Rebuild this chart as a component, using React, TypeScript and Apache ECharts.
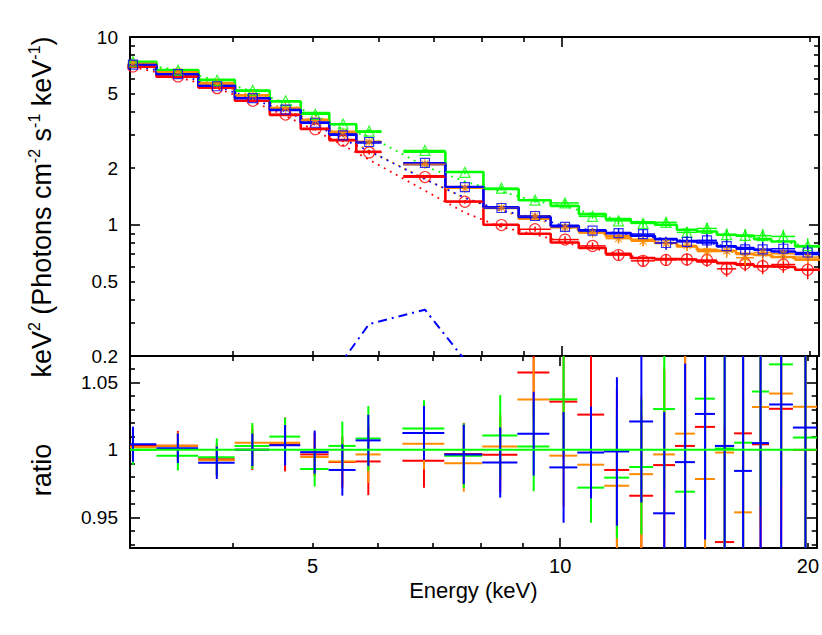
import React, { useEffect, useRef } from 'react';
import * as echarts from 'echarts';

// ---------- data ----------
const binLo = [2.82, 3.23, 3.63, 4.02, 4.43, 4.83, 5.23, 5.64, 6.43, 7.23, 8.04, 8.87, 9.70, 10.49, 11.31, 12.13, 12.97, 13.79, 14.58, 15.42, 16.27, 17.10, 17.94, 19.18];
const binHi = [3.23, 3.63, 4.02, 4.43, 4.83, 5.23, 5.64, 6.05, 7.23, 8.04, 8.87, 9.70, 10.49, 11.31, 12.13, 12.97, 13.79, 14.58, 15.42, 16.27, 17.10, 17.94, 19.18, 20.55];

const modelRed = [6.95, 6.15, 5.38, 4.58, 3.85, 3.24, 2.83, 2.45, 1.81, 1.33, 1.00, 0.896, 0.805, 0.752, 0.700, 0.665, 0.657, 0.652, 0.638, 0.625, 0.613, 0.600, 0.596, 0.576];
const modelOrange = [7.25, 6.51, 5.68, 4.88, 4.18, 3.62, 3.13, 2.77, 2.10, 1.58, 1.23, 1.076, 0.972, 0.914, 0.867, 0.832, 0.800, 0.767, 0.736, 0.726, 0.700, 0.690, 0.673, 0.652];
const modelGreen = [7.38, 6.67, 5.91, 5.18, 4.53, 3.93, 3.43, 3.13, 2.45, 1.91, 1.55, 1.35, 1.26, 1.14, 1.072, 1.03, 1.00, 0.94, 0.921, 0.885, 0.874, 0.839, 0.815, 0.767];
const modelBlue = [7.10, 6.33, 5.52, 4.72, 4.09, 3.50, 3.04, 2.74, 2.11, 1.59, 1.24, 1.10, 0.988, 0.933, 0.903, 0.874, 0.839, 0.819, 0.805, 0.767, 0.752, 0.736, 0.721, 0.700];

const contRed = [6.92, 6.12, 5.33, 4.53, 3.80, 3.17, 2.65, 2.22, 1.52, 1.16, 0.97, 0.89, 0.80, 0.75, 0.70, 0.665, 0.656, 0.651, 0.637, 0.624, 0.612, 0.599, 0.595, 0.575];
const contOrange = [7.22, 6.48, 5.63, 4.83, 4.11, 3.52, 2.93, 2.48, 1.75, 1.39, 1.18, 1.07, 0.97, 0.913, 0.866, 0.831, 0.799, 0.766, 0.735, 0.725, 0.699, 0.689, 0.672, 0.651];
const contGreen = [7.35, 6.64, 5.86, 5.13, 4.46, 3.84, 3.22, 2.96, 2.05, 1.70, 1.50, 1.34, 1.255, 1.138, 1.07, 1.029, 0.999, 0.939, 0.92, 0.884, 0.873, 0.838, 0.814, 0.766];
const contBlue = [7.07, 6.30, 5.47, 4.67, 4.02, 3.41, 2.85, 2.47, 1.75, 1.39, 1.19, 1.09, 0.985, 0.932, 0.902, 0.873, 0.838, 0.818, 0.804, 0.766, 0.751, 0.735, 0.720, 0.699];

const gaussBlue = [0.0005, 0.001, 0.002, 0.005, 0.015, 0.06, 0.19, 0.296, 0.353, 0.19, 0.06, 0.015, 0.004, 0.001, 0.0005, 0.0003, 0.0002, 0.0002, 0.0002, 0.0002, 0.0002, 0.0002, 0.0002, 0.0002];

const ratioRed = [1.003, 1.003, 0.993, 1.000, 1.004, 0.9966, 0.991, 0.9914, 0.9919, 0.997, 0.9964, 1.0573, 1.0357, 1.0261, 0.9851, 0.966, 0.9887, 1.0029, 1.017, 0.9317, 1.0122, 1.0041, 1.0304, 1.000];
const ratioOrange = [1.002, 1.003, 0.9923, 1.0053, 1.0053, 0.9947, 0.9914, 0.9966, 1.0045, 0.990, 1.0024, 1.0372, 0.9957, 0.989, 0.9734, 0.982, 0.9966, 1.012, 0.9784, 0.998, 0.9537, 1.0317, 1.0417, 1.0319];
const ratioGreen = [1.000, 0.9957, 0.9945, 1.0029, 1.0098, 0.9858, 1.0029, 1.0084, 1.0158, 0.9957, 1.0106, 1.0024, 1.0374, 0.972, 0.9794, 0.9873, 1.0302, 0.969, 1.0379, 1.001, 1.0053, 1.0432, 1.0633, 1.0091];
const ratioBlue = [1.0041, 1.0012, 0.9904, 1.000, 1.0034, 0.9983, 0.9851, 1.007, 1.0125, 0.9966, 0.9906, 1.012, 0.987, 0.998, 0.9988, 1.021, 0.953, 0.9909, 1.0266, 1.0029, 0.9844, 1.005, 1.0336, 1.0165];

const errRed = [0.012, 0.011, 0.012, 0.015, 0.020, 0.016, 0.019, 0.025, 0.020, 0.023, 0.028, 0.034, 0.042, 0.045, 0.060, 0.060, 0.070, 0.075, 0.080, 0.085, 0.090, 0.095, 0.100, 0.110];
const errOrange = [0.012, 0.010, 0.011, 0.013, 0.014, 0.015, 0.017, 0.021, 0.019, 0.021, 0.025, 0.031, 0.038, 0.040, 0.055, 0.058, 0.065, 0.070, 0.075, 0.080, 0.085, 0.090, 0.095, 0.100];
const errGreen = [0.011, 0.011, 0.014, 0.017, 0.014, 0.013, 0.018, 0.024, 0.021, 0.024, 0.030, 0.033, 0.040, 0.026, 0.045, 0.050, 0.060, 0.065, 0.070, 0.075, 0.080, 0.085, 0.090, 0.095];
const errBlue = [0.013, 0.011, 0.012, 0.012, 0.015, 0.016, 0.019, 0.019, 0.020, 0.022, 0.026, 0.031, 0.041, 0.034, 0.055, 0.060, 0.075, 0.073, 0.093, 0.090, 0.090, 0.095, 0.110, 0.095];

const xLabelValues = [5, 10, 20];
const xMinorTicks = [3, 4, 5, 6, 7, 8, 9, 20];
const xMajorTicks = [10];
const yTopLabelValues = [0.2, 0.5, 1, 2, 5, 10];
const yTopMinorTicks = [0.2, 0.3, 0.4, 0.5, 0.6, 0.7, 0.8, 0.9, 2, 3, 4, 5, 6, 7, 8, 9];
const yTopMajorTicks = [1, 10];
const rLabelValues = [0.95, 1, 1.05];
const rMinorTicks = [0.93, 0.94, 0.96, 0.97, 0.98, 0.99, 1.01, 1.02, 1.03, 1.04, 1.06];
const rMajorTicks = [0.95, 1, 1.05];

const X_MIN = 3.0;
const X_MAX = 20.5;
const Y_MIN = 0.2;
const Y_MAX = 10;
const R_MIN = 0.9273;
const R_MAX = 1.0695;

// ---------- style ----------
const FONT = '"Liberation Sans", Arial, Helvetica, sans-serif';
const RED = '#ff0000';
const ORANGE = '#ff8c00';
const GREEN = '#00ff00';
const BLUE = '#0000ff';
const ASTERISK = 'path://M5 0L5 10M0 5L10 5M1.5 1.5L8.5 8.5M1.5 8.5L8.5 1.5';

const sets = [
  { color: RED, model: modelRed, cont: contRed, ratio: ratioRed, err: errRed, symbol: 'circle', size: 11 },
  { color: ORANGE, model: modelOrange, cont: contOrange, ratio: ratioOrange, err: errOrange, symbol: ASTERISK, size: 10 },
  { color: GREEN, model: modelGreen, cont: contGreen, ratio: ratioGreen, err: errGreen, symbol: 'triangle', size: 10 },
  { color: BLUE, model: modelBlue, cont: contBlue, ratio: ratioBlue, err: errBlue, symbol: 'rect', size: 9 },
];

const centers = binLo.map((lo, i) => (lo + binHi[i]) / 2);

const fmt = (v: number) => String(parseFloat(Number(v).toPrecision(4)));

function stepData(model: number[]) {
  const pts: any[] = [];
  model.forEach((v, i) => {
    if (i > 0 && Math.abs(binLo[i] - binHi[i - 1]) > 1e-6) {
      pts.push([(binHi[i - 1] + binLo[i]) / 2, '-']);
    }
    pts.push([binLo[i], v]);
    pts.push([binHi[i], v]);
  });
  return pts;
}

function errSeries(xi: number, yi: number, color: string, data: number[][], width: number) {
  return {
    type: 'custom',
    xAxisIndex: xi,
    yAxisIndex: yi,
    clip: true,
    silent: true,
    encode: { x: [0, 1], y: 3 },
    data,
    renderItem: (_p: any, api: any) => {
      const lo = api.value(0), hi = api.value(1), c = api.value(2), y = api.value(3), e = api.value(4);
      const pL = api.coord([lo, y]);
      const pR = api.coord([hi, y]);
      const pT = api.coord([c, y + e]);
      const pB = api.coord([c, y - e]);
      const st = { stroke: color, lineWidth: width };
      return {
        type: 'group',
        children: [
          { type: 'line', shape: { x1: pL[0], y1: pL[1], x2: pR[0], y2: pR[1] }, style: st },
          { type: 'line', shape: { x1: pT[0], y1: pT[1], x2: pB[0], y2: pB[1] }, style: st },
        ],
      };
    },
  };
}

function mkX(grid: number, position: string, ticks: number[], len: number, line: boolean, labels?: number[], name?: string) {
  return {
    type: 'log', logBase: 10, gridIndex: grid, position, min: X_MIN, max: X_MAX,
    name: name || '', nameLocation: 'middle', nameGap: 31,
    nameTextStyle: { fontSize: 22, fontFamily: FONT, color: '#000' },
    axisLine: { show: line, onZero: false, lineStyle: { color: '#000', width: 2 } },
    axisTick: { show: true, inside: true, length: len, customValues: ticks, lineStyle: { color: '#000', width: 1.6 } },
    axisLabel: labels
      ? { show: true, customValues: labels, margin: 8, fontSize: 20, fontFamily: FONT, color: '#000', formatter: fmt }
      : { show: false },
    splitLine: { show: false },
    minorTick: { show: false },
  };
}

function mkY(grid: number, position: string, type: string, min: number, max: number, ticks: number[], len: number, line: boolean, labels?: number[]) {
  const ax: any = {
    type, gridIndex: grid, position, min, max,
    axisLine: { show: line, onZero: false, lineStyle: { color: '#000', width: 2 } },
    axisTick: { show: true, inside: true, length: len, customValues: ticks, lineStyle: { color: '#000', width: 1.6 } },
    axisLabel: labels
      ? { show: true, customValues: labels, margin: 12, fontSize: 19, fontFamily: FONT, color: '#000', formatter: fmt }
      : { show: false },
    splitLine: { show: false },
    minorTick: { show: false },
  };
  if (type === 'log') ax.logBase = 10;
  return ax;
}

function buildOption() {
  const series: any[] = [];
  // dotted continuum lines
  sets.forEach((s) => {
    series.push({
      type: 'line', xAxisIndex: 0, yAxisIndex: 0, silent: true, showSymbol: false, symbol: 'none',
      data: centers.map((c, i) => [c, s.cont[i]]),
      lineStyle: { color: s.color, width: 1.8, type: [1.8, 5] },
      z: 2,
    });
  });
  // gaussian line component
  series.push({
    type: 'line', xAxisIndex: 0, yAxisIndex: 0, silent: true, showSymbol: false, symbol: 'none',
    data: centers.map((c, i) => [c, gaussBlue[i]]),
    lineStyle: { color: BLUE, width: 2, type: [9, 5, 2, 5] },
    z: 2,
  });
  // model step lines
  sets.forEach((s) => {
    series.push({
      type: 'line', xAxisIndex: 0, yAxisIndex: 0, silent: true, showSymbol: false, symbol: 'none',
      connectNulls: false,
      data: stepData(s.model),
      lineStyle: { color: s.color, width: 2.6 },
      z: 3,
    });
  });
  // data points: error bars + markers (top) and ratio crosses (bottom)
  sets.forEach((s) => {
    const topData = centers.map((c, i) => {
      const y = s.model[i] * s.ratio[i];
      return [binLo[i], binHi[i], c, y, s.model[i] * s.err[i]];
    });
    series.push({ ...errSeries(0, 0, s.color, topData, 1.5), z: 4 });
    series.push({
      type: 'scatter', xAxisIndex: 0, yAxisIndex: 0, silent: true,
      symbol: s.symbol, symbolSize: s.size,
      data: centers.map((c, i) => [c, s.model[i] * s.ratio[i]]),
      itemStyle: { color: 'rgba(0,0,0,0)', borderColor: s.color, borderWidth: 1.2 },
      z: 5,
    });
    const ratioData = centers.map((c, i) => [binLo[i], binHi[i], c, s.ratio[i], s.err[i]]);
    series.push({ ...errSeries(4, 4, s.color, ratioData, 2), z: 4 });
  });
  // ratio = 1 reference line
  series.push({
    type: 'line', xAxisIndex: 4, yAxisIndex: 4, silent: true, showSymbol: false, symbol: 'none',
    data: [[X_MIN, 1], [X_MAX, 1]],
    lineStyle: { color: GREEN, width: 2 },
    z: 6,
  });

  return {
    animation: false,
    backgroundColor: '#ffffff',
    grid: [
      { left: 130, right: 3, top: 37, height: 319 },
      { left: 130, right: 3, top: 356, height: 192 },
    ],
    xAxis: [
      mkX(0, 'bottom', xMinorTicks, 5, true),
      mkX(0, 'bottom', xMajorTicks, 10, false),
      mkX(0, 'top', xMinorTicks, 5, true),
      mkX(0, 'top', xMajorTicks, 10, false),
      mkX(1, 'bottom', xMinorTicks, 5, true, xLabelValues, 'Energy (keV)'),
      mkX(1, 'bottom', xMajorTicks, 10, false),
      mkX(1, 'top', xMinorTicks, 5, true),
      mkX(1, 'top', xMajorTicks, 10, false),
    ],
    yAxis: [
      mkY(0, 'left', 'log', Y_MIN, Y_MAX, yTopMinorTicks, 5, true, yTopLabelValues),
      mkY(0, 'left', 'log', Y_MIN, Y_MAX, yTopMajorTicks, 10, false),
      mkY(0, 'right', 'log', Y_MIN, Y_MAX, yTopMinorTicks, 5, true),
      mkY(0, 'right', 'log', Y_MIN, Y_MAX, yTopMajorTicks, 10, false),
      mkY(1, 'left', 'value', R_MIN, R_MAX, rMinorTicks, 5, true, rLabelValues),
      mkY(1, 'left', 'value', R_MIN, R_MAX, rMajorTicks, 10, false),
      mkY(1, 'right', 'value', R_MIN, R_MAX, rMinorTicks, 5, true),
      mkY(1, 'right', 'value', R_MIN, R_MAX, rMajorTicks, 10, false),
    ],
    graphic: [
      {
        type: 'text', x: 42, y: 207, rotation: Math.PI / 2,
        style: {
          text: '{a|keV}{s|2}{a| (Photons cm}{s|-2}{a| s}{s|-1}{a| keV}{s|-1}{a|)}',
          align: 'center', verticalAlign: 'middle',
          rich: {
            a: { fontSize: 27, fontFamily: FONT, fill: '#000', lineHeight: 32 },
            s: { fontSize: 16, fontFamily: FONT, fill: '#000', lineHeight: 19, verticalAlign: 'top' },
          },
        },
      },
      {
        type: 'text', x: 42, y: 470, rotation: Math.PI / 2,
        style: { text: 'ratio', fontSize: 27, fontFamily: FONT, fill: '#000', align: 'center', verticalAlign: 'middle' },
      },
    ],
    series,
  };
}

export default function App() {
  const ref = useRef<HTMLDivElement>(null);
  useEffect(() => {
    if (!ref.current) return;
    const chart = echarts.init(ref.current, null, { renderer: 'svg' });
    chart.setOption(buildOption() as any);
    return () => chart.dispose();
  }, []);
  return <div ref={ref} style={{ position: 'fixed', left: 0, top: 0, width: 822, height: 635, background: '#fff' }} />;
}
